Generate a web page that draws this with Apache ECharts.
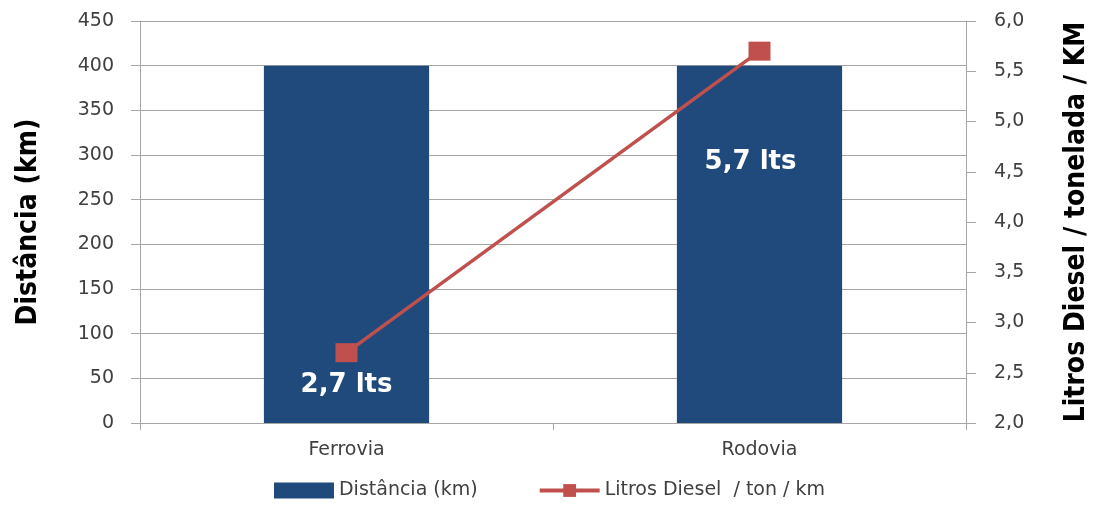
<!DOCTYPE html>
<html><head><meta charset="utf-8">
<script src="https://cdn.jsdelivr.net/npm/echarts@6/dist/echarts.min.js"></script>
<style>html,body{margin:0;padding:0;background:#fff}#c{width:1099px;height:507px}</style>
</head><body><div id="c"></div>
<script>
const categories = ['Ferrovia', 'Rodovia'];
const distancia = [400, 400];
const litros = [2.7, 5.7];
const leftTicks = {min: 0, max: 450, interval: 50};
const rightTicks = {min: 2, max: 6, interval: 0.5};
const labelOffsets = [[0, 33], [-9, 111]];

const chart = echarts.init(document.getElementById('c'));
const tickFont = {color: '#404040', fontSize: 19, fontFamily: 'DejaVu Sans'};
const titleFont = {fontSize: 28, fontWeight: 'bold', color: '#000', fontFamily: "'DejaVu Sans Condensed', 'Liberation Sans Narrow', 'DejaVu Sans', sans-serif"};
const axisGray = '#a6a6a6';
chart.setOption({
  animation: false,
  grid: {left: 140, right: 133, top: 21, bottom: 84},
  legend: {
    bottom: 2, left: 'center', itemGap: 60, itemWidth: 60, itemHeight: 16,
    textStyle: {color: '#404040', fontSize: 19, fontFamily: 'DejaVu Sans'},
    data: [
      {name: 'Distância (km)', icon: 'rect'},
      {name: 'Litros Diesel  / ton / km', lineStyle: {width: 4}}
    ]
  },
  xAxis: {
    type: 'category', data: categories,
    axisLine: {lineStyle: {color: axisGray}},
    axisTick: {show: true, length: 7, lineStyle: {color: axisGray}},
    axisLabel: Object.assign({margin: 18}, tickFont)
  },
  yAxis: [{
    type: 'value', min: leftTicks.min, max: leftTicks.max, interval: leftTicks.interval,
    name: 'Distância (km)', nameLocation: 'middle', nameGap: 97,
    nameTextStyle: titleFont,
    axisLine: {show: true, lineStyle: {color: axisGray}},
    axisTick: {show: true, length: 9, lineStyle: {color: axisGray}},
    axisLabel: Object.assign({margin: 26}, tickFont),
    splitLine: {lineStyle: {color: axisGray}}
  }, {
    type: 'value', min: rightTicks.min, max: rightTicks.max, interval: rightTicks.interval,
    name: 'Litros Diesel / tonelada / KM', nameLocation: 'middle', nameGap: 97, nameRotate: 90,
    nameTextStyle: titleFont,
    axisLine: {show: true, lineStyle: {color: axisGray}},
    axisTick: {show: true, length: 10, lineStyle: {color: axisGray}},
    axisLabel: Object.assign({margin: 28, formatter: v => v.toFixed(1).replace('.', ',')}, tickFont),
    splitLine: {show: false}
  }],
  series: [{
    name: 'Distância (km)', type: 'bar', data: distancia, barWidth: '40%',
    itemStyle: {color: '#214a7c'}
  }, {
    name: 'Litros Diesel  / ton / km', type: 'line', yAxisIndex: 1,
    data: litros.map((v, i) => ({
      value: v,
      label: {show: true, position: 'inside', offset: labelOffsets[i]}
    })),
    symbol: 'rect', symbolSize: [22, 19],
    lineStyle: {color: '#c0504d', width: 3.5},
    itemStyle: {color: '#c0504d'},
    label: {
      color: '#fff', fontSize: 26, fontWeight: 'bold', fontFamily: 'DejaVu Sans',
      formatter: p => p.value.toFixed(1).replace('.', ',') + ' lts'
    }
  }]
});
</script></body></html>
